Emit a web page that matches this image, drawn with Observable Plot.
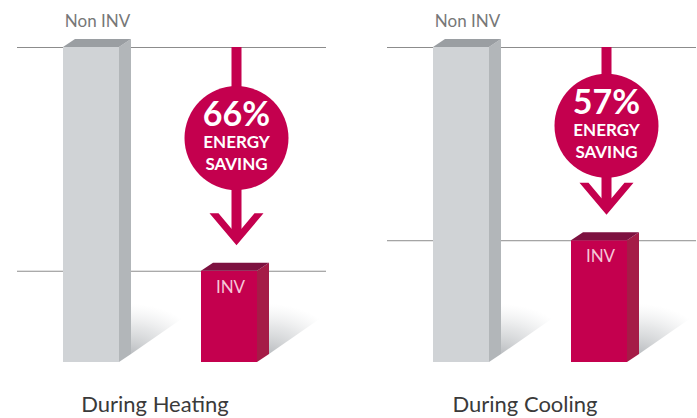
<!DOCTYPE html>
<html>
<head>
<meta charset="utf-8">
<script src="https://cdn.jsdelivr.net/npm/d3@7"></script>
<script src="https://cdn.jsdelivr.net/npm/@observablehq/plot@0.6"></script>
<style>
  html, body { margin: 0; padding: 0; background: #fff; }
  #chart svg { display: block; }
</style>
</head>
<body>
<div id="chart"></div>
<script>
// ---- data ----
const conditions = ["During Heating", "During Cooling"];
const barTypes = ["Non INV", "INV"];
const nonInvUse = [100, 100];   // relative energy use, non-inverter
const invUse = [34, 43];        // relative energy use, inverter
const savingLabels = ["66%", "57%"];
const savingWords = ["ENERGY", "SAVING"];

// ---- tables built from the arrays ----
const rows = conditions.flatMap((c, i) => [
  {condition: c, type: barTypes[0], value: nonInvUse[i]},
  {condition: c, type: barTypes[1], value: invUse[i]}
]);
const savings = conditions.map((c, i) => ({
  condition: c, type: barTypes[1], top: nonInvUse[i], inv: invUse[i], label: savingLabels[i]
}));
const levels = conditions.flatMap((c, i) => [
  {condition: c, value: nonInvUse[i]},
  {condition: c, value: invUse[i]}
]);

const crimson = "#c4004e";
const palette = {
  "Non INV": {front: "#d0d3d6", side: "#b2b6b9", top: "#9a9ea2"},
  "INV": {front: crimson, side: "#a51c47", top: "#7d1140"}
};
const DEPTH_X = 12, DEPTH_Y = 8;
let gradCount = 0;

// 3D bar: front face, side face, top face and a soft cast shadow
function bars3d(data, options) {
  return Plot.barY(data, {
    ...options,
    render(index, scales, values, dimensions) {
      const bw = typeof scales.x.bandwidth === "function" ? scales.x.bandwidth() : scales.x.bandwidth;
      const bottom = dimensions.height - dimensions.marginBottom;
      const g = d3.create("svg:g");
      const gid = "shadow" + (gradCount++);
      const rg = g.append("defs").append("radialGradient")
        .attr("id", gid).attr("cx", 0).attr("cy", 1).attr("r", 1).attr("fx", 0).attr("fy", 1);
      rg.append("stop").attr("offset", 0).attr("stop-color", "#8c9196").attr("stop-opacity", 0.6);
      rg.append("stop").attr("offset", 0.55).attr("stop-color", "#a9adb1").attr("stop-opacity", 0.3);
      rg.append("stop").attr("offset", 1).attr("stop-color", "#c8cbce").attr("stop-opacity", 0);
      for (const i of index) {
        const c = palette[data[i].type];
        const x0 = values.x[i], x1 = x0 + bw;
        const top = Math.min(values.y1[i], values.y2[i]);
        const sx = x1 + DEPTH_X, sb = bottom - DEPTH_Y;
        // shadow
        g.append("path")
          .attr("d", `M${sx},${sb}L${sx + 72},${sb - 50}L${sx},${sb - 50}Z`)
          .attr("fill", `url(#${gid})`);
        // front
        g.append("rect").attr("x", x0).attr("y", top).attr("width", bw).attr("height", bottom - top)
          .attr("fill", c.front);
        // side
        g.append("path")
          .attr("d", `M${x1},${top}L${sx},${top - DEPTH_Y}L${sx},${sb}L${x1},${bottom}Z`)
          .attr("fill", c.side);
        // top
        g.append("path")
          .attr("d", `M${x0},${top}L${x0 + DEPTH_X},${top - DEPTH_Y}L${sx},${top - DEPTH_Y}L${x1},${top}Z`)
          .attr("fill", c.top);
      }
      return g.node();
    }
  });
}

// chevron arrow head, tip at the origin
const chevron = {
  draw(ctx) {
    ctx.moveTo(0, 0);
    ctx.lineTo(-27, -32);
    ctx.lineTo(-18, -32);
    ctx.lineTo(-5, -16.6);
    ctx.lineTo(5, -16.6);
    ctx.lineTo(18, -32);
    ctx.lineTo(27, -32);
    ctx.closePath();
  }
};

const badgeY = d => d.inv + (d.top - d.inv) * 0.595;

const chart = Plot.plot({
  width: 697,
  height: 418,
  marginLeft: 16,
  marginRight: 0,
  marginTop: 47,
  marginBottom: 56,
  style: {fontFamily: "Lato, 'Open Sans', sans-serif", background: "#fff"},
  fx: {domain: conditions, range: [16, 697], paddingInner: 0.164, paddingOuter: 0, axis: null, label: null},
  x: {domain: barTypes, paddingInner: 0.597, paddingOuter: 0.4136, align: 0.4, axis: null, label: null},
  y: {domain: [0, 100], range: [386, 47], axis: null, label: null},
  marks: [
    Plot.ruleY(levels, {fx: "condition", y: "value", stroke: "#8c8c8c", strokeWidth: 1}),
    bars3d(rows, {fx: "condition", x: "type", y: "value"}),
    // arrow stem
    Plot.ruleX(savings, {fx: "condition", x: "type", y1: "top", y2: "inv", insetBottom: 40,
      dx: 7, stroke: crimson, strokeWidth: 10}),
    // arrow head
    Plot.dot(savings, {fx: "condition", x: "type", y: "inv", dx: 7, dy: -26,
      symbol: chevron, r: 5, fill: crimson, stroke: "none"}),
    // badge
    Plot.dot(savings, {fx: "condition", x: "type", y: badgeY, dx: 7, r: 52, fill: crimson, stroke: "none"}),
    Plot.text(savings, {fx: "condition", x: "type", y: badgeY, dx: 7, dy: -23, text: "label",
      fill: "#fff", fontSize: 34, fontWeight: 700, letterSpacing: 0.5}),
    Plot.text(savings, {fx: "condition", x: "type", y: badgeY, dx: 7, dy: 4.5, text: () => savingWords[0],
      fill: "#fff", fontSize: 17, fontWeight: 700, letterSpacing: 0.6}),
    Plot.text(savings, {fx: "condition", x: "type", y: badgeY, dx: 7, dy: 26.5, text: () => savingWords[1],
      fill: "#fff", fontSize: 17, fontWeight: 700, letterSpacing: 0.6}),
    // bar labels
    Plot.text(rows.filter(d => d.type === barTypes[0]), {fx: "condition", x: "type", y: "value",
      dx: 6, dy: -26, text: "type", fill: "#777", fontSize: 17}),
    Plot.text(rows.filter(d => d.type === barTypes[1]), {fx: "condition", x: "type", y: "value",
      dx: 1, dy: 16, text: "type", fill: "#f6c6d8", fontSize: 17}),
    // condition labels
    Plot.text(conditions, {fx: d => d, text: d => d, frameAnchor: "bottom", lineAnchor: "middle",
      dx: -17, dy: 42.5, fill: "#3a3a3a", fontSize: 22})
  ]
});

document.getElementById("chart").appendChild(chart);
</script>
</body>
</html>
